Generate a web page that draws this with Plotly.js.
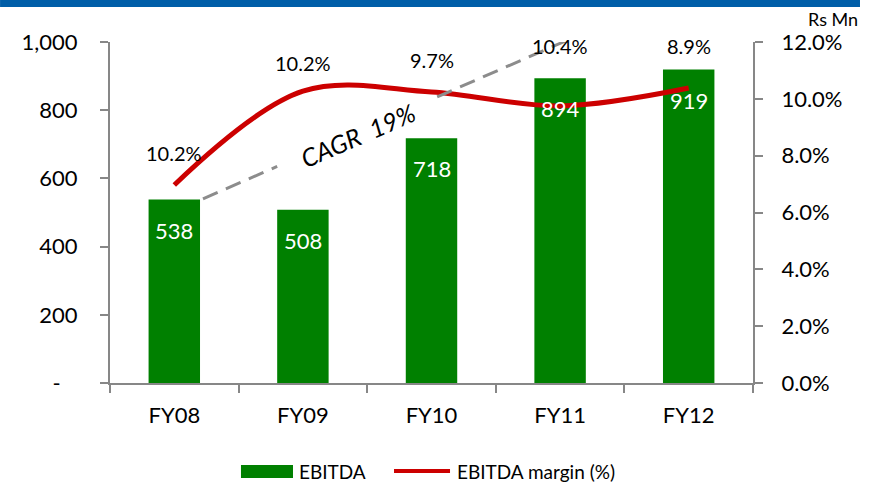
<!DOCTYPE html>
<html>
<head>
<meta charset="utf-8">
<script src="https://cdn.plot.ly/plotly-3.0.1.min.js"></script>
<style>
  html, body { margin: 0; padding: 0; background: #fff; }
  #chart { width: 878px; height: 483px; }
</style>
</head>
<body>
<div id="chart"></div>
<script>
// data
var years = ["FY08", "FY09", "FY10", "FY11", "FY12"];
var ebitda = [538, 508, 718, 894, 919];
var marginLine = [6.97, 10.27, 10.24, 9.75, 10.38];   // where the red line sits (%)
var marginText = ["10.2%", "10.2%", "9.7%", "10.4%", "8.9%"];

var leftTickVals = [0, 200, 400, 600, 800, 1000];
var leftTickText = ["-\u00a0\u00a0\u00a0", "200", "400", "600", "800", "1,000"];
var rightTickVals = [0, 2, 4, 6, 8, 10, 12];
var rightTickText = rightTickVals.map(function (v) { return v.toFixed(1) + "%"; });

// layout-only positions for the margin labels (in % axis units)
var marginLabelPos = [8.09, 11.26, 11.37, 11.86, 11.86];

var font = 'Lato, "Open Sans", sans-serif';
var axisGrey = "#878787";
var green = "#008000";
var red = "#CC0000";

var bars = {
  x: years,
  y: ebitda,
  type: "bar",
  name: "EBITDA",
  marker: { color: green },
  width: 0.4,
  hoverinfo: "skip"
};

var margin = {
  x: years,
  y: marginLine,
  type: "scatter",
  mode: "lines",
  name: "EBITDA margin (%)",
  yaxis: "y2",
  line: { color: red, width: 5, shape: "spline", smoothing: 1 },
  hoverinfo: "skip"
};

var annotations = [];
years.forEach(function (yr, i) {
  annotations.push({
    x: yr, y: ebitda[i], xref: "x", yref: "y",
    text: String(ebitda[i]), showarrow: false,
    yanchor: "top", yshift: -15,
    font: { family: font, size: 22, color: "#ffffff" }
  });
  annotations.push({
    x: yr, y: marginLabelPos[i], xref: "x", yref: "y2",
    text: marginText[i], showarrow: false,
    yanchor: "middle",
    font: { family: font, size: 20, color: "#000000" }
  });
});

// CAGR label and arrow head
annotations.push({
  x: 1.428, y: 727, xref: "x", yref: "y",
  text: "CAGR\u00a0\u00a019%", showarrow: false, textangle: -23.5,
  font: { family: font, size: 25, color: "#000000", style: "italic" }
});
annotations.push({
  x: 3.061, y: 1006, xref: "x", yref: "y",
  text: "", showarrow: true, arrowhead: 4, arrowsize: 1.1,
  arrowwidth: 2.5, arrowcolor: "#8C8C8C", ax: -9, ay: 4, standoff: 0
});
annotations.push({
  x: 1.1664, y: 1.0674, xref: "paper", yref: "paper",
  xanchor: "right", yanchor: "middle",
  text: "Rs Mn", showarrow: false,
  font: { family: font, size: 18, color: "#000000" }
});

// legend drawn by hand, to get the wide swatches of the original
annotations.push({
  x: 0.2908, y: -0.2581, xref: "paper", yref: "paper",
  xanchor: "left", yanchor: "middle", showarrow: false,
  text: bars.name, font: { family: font, size: 19, color: "#000000" }
});
annotations.push({
  x: 0.5365, y: -0.2581, xref: "paper", yref: "paper",
  xanchor: "left", yanchor: "middle", showarrow: false,
  text: margin.name, font: { family: font, size: 19, color: "#000000" }
});

var dashLine = { color: "#8C8C8C", width: 3, dash: "16px,9px" };

var layout = {
  width: 878,
  height: 483,
  margin: { l: 110, r: 125, t: 42, b: 100, autoexpand: false },
  paper_bgcolor: "#ffffff",
  plot_bgcolor: "#ffffff",
  font: { family: font, size: 22, color: "#000000" },
  showlegend: false,
  xaxis: {
    type: "category",
    range: [-0.5, 4.5],
    showline: true, linecolor: axisGrey, linewidth: 2,
    ticks: "outside", tickson: "boundaries", ticklen: 8, tickwidth: 2, tickcolor: axisGrey,
    ticklabelstandoff: 12,
    showgrid: false, zeroline: false,
    automargin: false,
    fixedrange: true
  },
  yaxis: {
    range: [0, 1000],
    tickvals: leftTickVals, ticktext: leftTickText,
    showline: true, linecolor: axisGrey, linewidth: 2,
    ticks: "outside", ticklen: 8, tickwidth: 2, tickcolor: axisGrey,
    ticklabelstandoff: 18,
    showgrid: false, zeroline: false,
    automargin: false,
    fixedrange: true
  },
  yaxis2: {
    overlaying: "y", side: "right",
    range: [0, 12],
    tickvals: rightTickVals, ticktext: rightTickText,
    showline: true, linecolor: axisGrey, linewidth: 2,
    ticks: "outside", ticklen: 8, tickwidth: 2, tickcolor: axisGrey,
    ticklabelstandoff: 14,
    showgrid: false, zeroline: false,
    automargin: false,
    fixedrange: true
  },
  shapes: [
    // blue band along the top
    { type: "rect", xref: "paper", yref: "paper",
      x0: -0.171, x1: 1.1664, y0: 1.1026, y1: 1.13,
      fillcolor: "#005EA8", line: { width: 0 } },
    // CAGR dashed trend, broken around the label
    { type: "line", xref: "x", yref: "y", x0: 0.223, y0: 540, x1: 0.80, y1: 635, line: dashLine },
    { type: "line", xref: "x", yref: "y", x0: 2.044, y0: 839, x1: 3.061, y1: 1006, line: dashLine },
    // legend swatches
    { type: "rect", xref: "paper", yref: "paper",
      x0: 0.2037, x1: 0.2846, y0: -0.2786, y1: -0.2405,
      fillcolor: green, line: { width: 0 } },
    { type: "line", xref: "paper", yref: "paper",
      x0: 0.4417, x1: 0.5288, y0: -0.2581, y1: -0.2581,
      line: { color: red, width: 4 } }
  ],
  annotations: annotations
};

Plotly.newPlot("chart", [bars, margin], layout, { displayModeBar: false, staticPlot: true });
</script>
</body>
</html>
